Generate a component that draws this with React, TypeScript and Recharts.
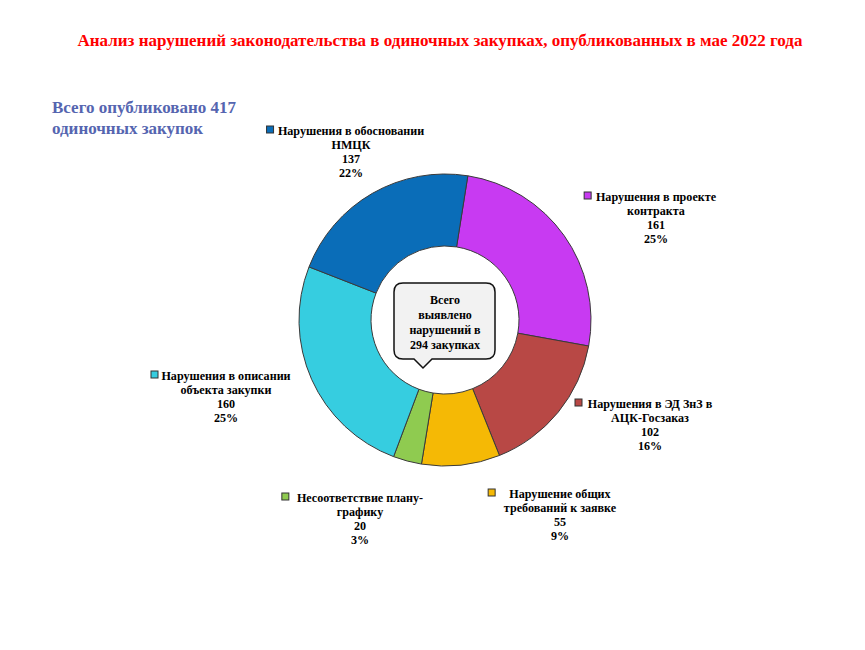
import React from "react";
import { Cell, Pie, PieChart } from "recharts";

const categories = [
  "Нарушения в проекте\nконтракта",
  "Нарушения в ЭД ЗнЗ в\nАЦК-Госзаказ",
  "Нарушение общих\nтребований к заявке",
  "Несоответствие плану-\nграфику",
  "Нарушения в описании\nобъекта закупки",
  "Нарушения в обосновании\nНМЦК",
];
const values = [161, 102, 55, 20, 160, 137];
const colors = ["#C83AF2", "#B84845", "#F5B905", "#8FCB50", "#36CDE0", "#0A6DB8"];
// label anchor (center of first line) relative to pie center
const labelOffsets = [
  { dx: 211, dy: -124 },
  { dx: 205, dy: 83 },
  { dx: 115, dy: 173 },
  { dx: -85, dy: 177 },
  { dx: -219, dy: 55 },
  { dx: -94, dy: -190 },
];
const centerLines = ["Всего", "выявлено", "нарушений в", "294 закупках"];

const data = categories.map((name, i) => ({ name, value: values[i] }));

const FONT = "'Liberation Serif', 'Times New Roman', serif";
const CX = 445;
const CY = 320;

const renderLabel = (props: any) => {
  const { cx, cy, index, value, percent } = props;
  const off = labelOffsets[index];
  const x = cx + off.dx;
  const y = cy + off.dy;
  const lines = [...categories[index].split("\n"), String(value), `${Math.round(percent * 100)}%`];
  const maxW = Math.max(...lines.map((l) => l.length * 6.3));
  const mx = x - maxW / 2 - 12;
  return (
    <g>
      <rect x={mx} y={y - 4} width={7} height={7} fill={colors[index]} stroke="#333" strokeWidth={1} />
      <text x={x} y={y} textAnchor="middle" fontFamily={FONT} fontSize={12.1} fontWeight="bold" fill="#000">
        {lines.map((l, i) => (
          <tspan key={i} x={x} y={y + 4.5 + i * 14}>
            {l}
          </tspan>
        ))}
      </text>
    </g>
  );
};

const CenterCallout = ({ cx, cy }: { cx: number; cy: number }) => {
  const l = cx - 51, r = cx + 50, t = cy - 37, b = cy + 39, rad = 9;
  const tx = cx - 22;
  const d = `M ${l + rad} ${t} H ${r - rad} Q ${r} ${t} ${r} ${t + rad} V ${b - rad} Q ${r} ${b} ${r - rad} ${b}
    H ${tx + 9} L ${tx} ${b + 9} L ${tx - 9} ${b} H ${l + rad} Q ${l} ${b} ${l} ${b - rad} V ${t + rad} Q ${l} ${t} ${l + rad} ${t} Z`;
  return (
    <svg width={865} height={650} style={{ position: "absolute", left: 0, top: 0, pointerEvents: "none" }}>
      <path d={d} fill="#F2F2F2" stroke="#111" strokeWidth={1.5} />
      <text textAnchor="middle" fontFamily={FONT} fontSize={12} fontWeight="bold" fill="#000">
        {centerLines.map((l2, i) => (
          <tspan key={i} x={cx} y={cy - 16 + i * 15}>
            {l2}
          </tspan>
        ))}
      </text>
    </svg>
  );
};

const App = () => {
  return (
    <div style={{ position: "fixed", left: 0, top: 0, width: 865, height: 650, background: "#fff" }}>
      <div
        style={{
          position: "absolute",
          left: 0,
          width: 880,
          top: 31,
          textAlign: "center",
          color: "#FF0000",
          fontFamily: FONT,
          fontWeight: "bold",
          fontSize: 17,
        }}
      >
        Анализ нарушений законодательства в одиночных закупках, опубликованных в мае 2022 года
      </div>
      <div
        style={{
          position: "absolute",
          left: 52,
          top: 97,
          color: "#5565B0",
          fontFamily: FONT,
          fontWeight: "bold",
          fontSize: 17,
          lineHeight: "21px",
        }}
      >
        Всего опубликовано 417
        <br />
        одиночных закупок
      </div>
      <div style={{ position: "absolute", left: 0, top: 0 }}>
        <PieChart width={865} height={650} margin={{ top: 0, right: 0, bottom: 0, left: 0 }}>
          <Pie
            data={data}
            dataKey="value"
            nameKey="name"
            cx={CX}
            cy={CY}
            innerRadius={74}
            outerRadius={146}
            startAngle={81}
            endAngle={-279}
            label={renderLabel}
            labelLine={false}
            isAnimationActive={false}
            stroke="#3a3a3a"
            strokeWidth={1}
          >
            {data.map((d, i) => (
              <Cell key={d.name} fill={colors[i]} />
            ))}
          </Pie>
        </PieChart>
      </div>
      <CenterCallout cx={CX} cy={CY} />
    </div>
  );
};

export default App;
